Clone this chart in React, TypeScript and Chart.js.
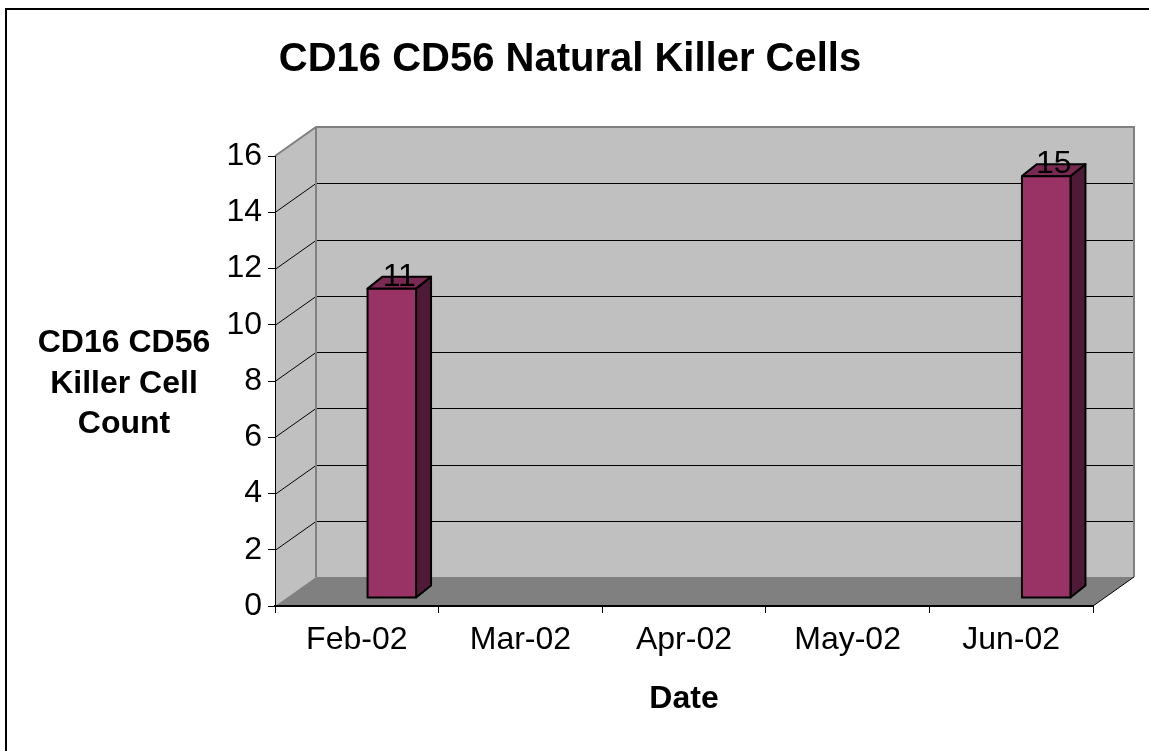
import React, { useEffect, useRef } from "react";
import { Chart, registerables } from "chart.js";

Chart.register(...registerables);

// ---- data ----
const categories: string[] = ["Feb-02", "Mar-02", "Apr-02", "May-02", "Jun-02"];
const killerCellCounts: (number | null)[] = [11, null, null, null, 15];
const yAxisMin = 0;
const yAxisMax = 16;
const yAxisStep = 2;
const chartTitle = "CD16 CD56 Natural Killer Cells";
const yTitleLines: string[] = ["CD16 CD56", "Killer Cell", "Count"];
const xTitle = "Date";

// ---- style ----
const FONT = "'Liberation Sans', Arial, Helvetica, sans-serif";
const WALL = "#c0c0c0";
const FLOOR = "#808080";
const EDGE = "#808080";
const BAR_FRONT = "#993366";
const BAR_TOP = "#7a2952";
const BAR_SIDE = "#4f1a36";
const DX = 41; // wall depth x
const DY = 29; // wall depth y
const BAR_SHIFT_X = 35;
const BAR_SHIFT_Y = 8;
const BAR_DX = 15;
const BAR_DY = 12;

function poly(ctx: CanvasRenderingContext2D, pts: number[][]) {
  ctx.beginPath();
  ctx.moveTo(pts[0][0], pts[0][1]);
  for (let i = 1; i < pts.length; i++) ctx.lineTo(pts[i][0], pts[i][1]);
  ctx.closePath();
}

const threeDPlugin = {
  id: "threeD",
  beforeDraw(chart: any) {
    const { ctx, chartArea: a, scales } = chart;
    const ys = scales.y;
    ctx.save();
    ctx.fillStyle = "#ffffff";
    ctx.fillRect(0, 0, chart.width, chart.height);
    // outer frame
    ctx.fillStyle = "#000";
    ctx.fillRect(5, 8, 2, chart.height - 8);
    ctx.fillRect(5, 8, chart.width - 5, 2);

    // back wall
    ctx.fillStyle = WALL;
    ctx.fillRect(a.left + DX, a.top - DY, a.right - a.left, a.bottom - a.top);
    // left wall
    poly(ctx, [
      [a.left, a.top],
      [a.left + DX, a.top - DY],
      [a.left + DX, a.bottom - DY],
      [a.left, a.bottom],
    ]);
    ctx.fill();
    // floor
    ctx.fillStyle = FLOOR;
    poly(ctx, [
      [a.left, a.bottom],
      [a.left + DX, a.bottom - DY],
      [a.right + DX, a.bottom - DY],
      [a.right, a.bottom],
    ]);
    ctx.fill();

    // gridlines
    ctx.strokeStyle = "#000";
    ctx.lineWidth = 1;
    ys.ticks.forEach((t: any) => {
      if (t.value <= yAxisMin || t.value >= yAxisMax) return;
      const py = Math.round(ys.getPixelForValue(t.value)) + 0.5;
      ctx.beginPath();
      ctx.moveTo(a.left, py);
      ctx.lineTo(a.left + DX, py - DY);
      ctx.lineTo(a.right + DX, py - DY);
      ctx.stroke();
    });

    // wall edges
    ctx.strokeStyle = EDGE;
    ctx.lineWidth = 2;
    ctx.beginPath();
    ctx.moveTo(a.left, a.top);
    ctx.lineTo(a.left + DX, a.top - DY);
    ctx.lineTo(a.right + DX, a.top - DY);
    ctx.lineTo(a.right + DX, a.bottom - DY);
    ctx.stroke();
    ctx.beginPath();
    ctx.moveTo(a.left + DX, a.top - DY);
    ctx.lineTo(a.left + DX, a.bottom - DY);
    ctx.stroke();
    // floor right edge
    ctx.strokeStyle = "#000";
    ctx.lineWidth = 1;
    ctx.beginPath();
    ctx.moveTo(a.right, a.bottom);
    ctx.lineTo(a.right + DX, a.bottom - DY);
    ctx.stroke();
    ctx.restore();
  },
  afterDatasetsDraw(chart: any) {
    const { ctx } = chart;
    const meta = chart.getDatasetMeta(0);
    const data = chart.data.datasets[0].data;
    ctx.save();
    meta.data.forEach((el: any, i: number) => {
      const v = data[i];
      if (v === null || v === undefined) return;
      const p = el.getProps(["x", "y", "base", "width"], true);
      const l = p.x - p.width / 2 + BAR_SHIFT_X;
      const r = l + p.width;
      const t = p.y - BAR_SHIFT_Y;
      const b = p.base - BAR_SHIFT_Y;
      ctx.lineWidth = 2;
      ctx.lineJoin = "round";
      ctx.strokeStyle = "#000";
      // side
      ctx.fillStyle = BAR_SIDE;
      poly(ctx, [
        [r, t],
        [r + BAR_DX, t - BAR_DY],
        [r + BAR_DX, b - BAR_DY],
        [r, b],
      ]);
      ctx.fill();
      ctx.stroke();
      // top
      ctx.fillStyle = BAR_TOP;
      poly(ctx, [
        [l, t],
        [l + BAR_DX, t - BAR_DY],
        [r + BAR_DX, t - BAR_DY],
        [r, t],
      ]);
      ctx.fill();
      ctx.stroke();
      // front
      ctx.fillStyle = BAR_FRONT;
      poly(ctx, [
        [l, t],
        [r, t],
        [r, b],
        [l, b],
      ]);
      ctx.fill();
      ctx.stroke();
      // value label
      ctx.fillStyle = "#000";
      ctx.font = `32px ${FONT}`;
      ctx.textAlign = "center";
      ctx.textBaseline = "alphabetic";
      ctx.fillText(String(v), (l + r) / 2 + BAR_DX / 2, t - 3);
    });
    ctx.restore();
  },
  afterDraw(chart: any) {
    const { ctx, chartArea: a } = chart;
    ctx.save();
    ctx.fillStyle = "#000";
    ctx.textAlign = "center";
    ctx.textBaseline = "alphabetic";
    ctx.font = `bold 40px ${FONT}`;
    ctx.fillText(chartTitle, 570, 71);
    ctx.font = `bold 32px ${FONT}`;
    yTitleLines.forEach((line, i) => {
      ctx.fillText(line, 124, 352 + i * 40.5);
    });
    ctx.fillText(xTitle, (a.left + a.right) / 2, 708);
    ctx.restore();
  },
};

export default function App() {
  const canvasRef = useRef<HTMLCanvasElement | null>(null);

  useEffect(() => {
    if (!canvasRef.current) return;
    const chart = new Chart(canvasRef.current, {
      type: "bar",
      data: {
        labels: categories,
        datasets: [
          {
            label: "CD16 CD56 Killer Cell Count",
            data: killerCellCounts,
            backgroundColor: "rgba(0,0,0,0)",
            borderWidth: 0,
            barPercentage: 0.2965,
            categoryPercentage: 1,
          },
        ],
      },
      options: {
        responsive: false,
        animation: false,
        devicePixelRatio: 1,
        layout: { padding: { left: 0, top: 156, right: 56, bottom: 0 } },
        plugins: {
          legend: { display: false },
          title: { display: false },
          tooltip: { enabled: false },
        },
        scales: {
          x: {
            type: "category",
            offset: true,
            grid: {
              display: true,
              drawOnChartArea: false,
              drawTicks: true,
              tickLength: 7,
              color: "#000",
              offset: true,
            },
            border: { display: true, color: "#000", width: 2 },
            ticks: {
              font: { family: FONT, size: 32 },
              color: "#000",
              padding: 8,
              maxRotation: 0,
              autoSkip: false,
            },
            afterFit(s: any) {
              s.height = 145;
              s.paddingLeft = 0;
              s.paddingRight = 0;
            },
          },
          y: {
            min: yAxisMin,
            max: yAxisMax,
            ticks: {
              stepSize: yAxisStep,
              font: { family: FONT, size: 32 },
              color: "#000",
              padding: 6,
            },
            grid: {
              drawOnChartArea: false,
              drawTicks: true,
              tickLength: 7,
              color: "#000",
            },
            border: { display: true, color: "#000", width: 1 },
            afterFit(s: any) {
              s.width = 275;
              s.paddingTop = 0;
              s.paddingBottom = 0;
            },
          },
        },
      },
      plugins: [threeDPlugin],
    });
    return () => chart.destroy();
  }, []);

  return (
    <div style={{ position: "fixed", left: 0, top: 0, width: 1149, height: 751, background: "#fff" }}>
      <canvas ref={canvasRef} width={1149} height={751} style={{ display: "block" }} />
    </div>
  );
}
